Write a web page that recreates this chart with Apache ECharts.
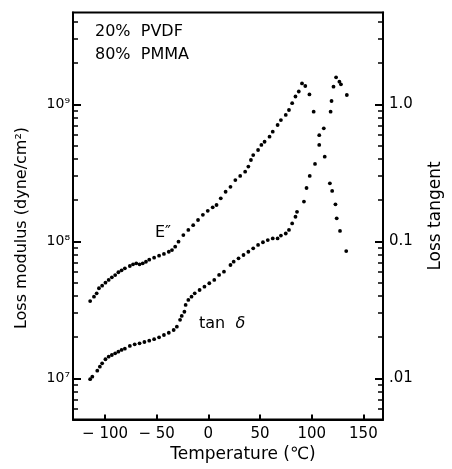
<!DOCTYPE html>
<html>
<head>
<meta charset="utf-8">
<script src="https://cdn.jsdelivr.net/npm/echarts@6/dist/echarts.min.js"></script>
<style>
html,body{margin:0;padding:0;background:#fff;}
#chart{width:452px;height:469px;}
</style>
</head>
<body>
<div id="chart"></div>
<script>
// ---- data ----
// E'' (loss modulus, dyne/cm^2) vs temperature (°C)
var eTemp = [-114.4,-110.7,-108.1,-105.9,-102.8,-99.6,-96.5,-93.4,-90.2,-87.1,
  -84.0,-80.8,-76.0,-72.9,-69.8,-66.6,-63.5,-60.4,-57.2,-52.5,
  -47.7,-43.0,-38.3,-35.2,-32.1,-28.9,-24.2,-19.4,-14.7,-10.0,
  -5.3,-0.6,4.2,7.9,12.0,16.7,21.4,26.1,30.8,35.6,
  38.7,41.2,43.4,48.1,51.3,54.4,59.2,62.3,67.0,70.2,
  74.9,78.0,81.1,84.3,87.5,90.6,93.8,97.8,101.9,107.3,
  112.6,117.6,119.8,123.0,124.2,127.4,133.4];
var eValue = [3.66e7,3.94e7,4.17e7,4.54e7,4.74e7,4.99e7,5.22e7,5.46e7,5.67e7,5.94e7,
  6.14e7,6.35e7,6.60e7,6.79e7,6.90e7,6.79e7,6.90e7,7.09e7,7.34e7,7.59e7,
  7.85e7,8.08e7,8.39e7,8.63e7,9.14e7,9.93e7,1.11e8,1.21e8,1.31e8,1.43e8,
  1.56e8,1.67e8,1.77e8,1.84e8,2.06e8,2.30e8,2.50e8,2.80e8,3.00e8,3.22e8,
  3.51e8,3.92e8,4.26e8,4.64e8,5.05e8,5.33e8,5.80e8,6.31e8,7.06e8,7.67e8,
  8.36e8,9.09e8,1.02e9,1.14e9,1.24e9,1.42e9,1.36e9,1.18e9,8.83e8,5.95e8,
  4.15e8,2.65e8,2.33e8,1.86e8,1.47e8,1.19e8,8.49e7];
// tan delta (loss tangent) vs temperature (°C)
var tTemp = [-114.4,-112.3,-107.5,-105.0,-102.8,-99.6,-96.5,-93.4,-90.2,-87.1,
  -84.0,-80.8,-76.0,-71.3,-66.6,-61.9,-57.2,-52.5,-47.7,-43.0,
  -38.3,-33.6,-30.5,-27.4,-25.8,-23.2,-22.0,-19.4,-16.3,-13.2,
  -8.5,-3.8,0.9,5.7,10.4,15.1,21.4,24.5,29.2,34.0,
  38.7,43.4,48.1,52.8,57.5,62.3,67.0,70.2,74.9,78.0,
  81.1,84.3,85.8,92.5,95.0,98.1,103.2,107.3,111.7,118.3,
  119.2,121.1,123.6,126.8,128.3,134.0];
var tValue = [0.00984,0.01027,0.01136,0.01216,0.01286,0.01377,0.01438,0.01479,0.01522,0.01563,
  0.0161,0.01644,0.01722,0.0177,0.018,0.0184,0.0188,0.0193,0.0199,0.0207,
  0.0215,0.0225,0.0238,0.0267,0.0285,0.0306,0.0343,0.0373,0.0394,0.0417,
  0.0441,0.0466,0.0494,0.0522,0.0568,0.060,0.0671,0.071,0.0751,0.0794,
  0.0839,0.0889,0.094,0.0984,0.102,0.105,0.105,0.110,0.114,0.121,
  0.135,0.151,0.164,0.195,0.245,0.300,0.367,0.505,0.668,0.883,
  1.057,1.345,1.574,1.462,1.40,1.169];

// ---- axis ticks / labels ----
var xTicks = [-100,-50,0,50,100,150];
var leftMajor = [1e7,1e8,1e9];
var leftLabels = ['10\u2077','10\u2078','10\u2079'];
var leftMinor = [5e6,6e6,7e6,8e6,9e6,
  2e7,3e7,4e7,5e7,6e7,7e7,8e7,9e7,
  2e8,3e8,4e8,5e8,6e8,7e8,8e8,9e8,
  2e9,3e9,4e9];
var rightMajor = [0.01,0.1,1];
var rightLabels = ['.01','0.1','1.0'];
var rightMinor = [0.005,0.006,0.007,0.008,0.009,
  0.02,0.03,0.04,0.05,0.06,0.07,0.08,0.09,
  0.2,0.3,0.4,0.5,0.6,0.7,0.8,0.9,
  2,3,4];

var xMin = -131, xMax = 169;
var lMin = 5e6, lMax = 4.68e9;
var rMin = 5e-3, rMax = 4.68;

function zip(a, b) { return a.map(function (v, i) { return [v, b[i]]; }); }

var FONT = 'DejaVu Sans';
var chart = echarts.init(document.getElementById('chart'));

function lbl(map, majors) {
  return function (v) {
    for (var i = 0; i < majors.length; i++) {
      if (Math.abs(v / majors[i] - 1) < 1e-6) return map[i];
    }
    return '';
  };
}

var option = {
  backgroundColor: '#fff',
  animation: false,
  grid: { left: 73, right: 61, top: 12.5, bottom: 49.5, show: true,
          borderColor: '#000', borderWidth: 2, backgroundColor: 'transparent' },
  xAxis: [{
    type: 'value', min: xMin, max: xMax,
    name: 'Temperature (\u2103)', nameLocation: 'middle', nameGap: 25,
    nameTextStyle: { fontFamily: FONT, fontSize: 17, color: '#000', padding: [0, 0, 0, 30] },
    splitLine: { show: false },
    axisLine: { show: true, onZero: false, lineStyle: { color: '#000', width: 2 } },
    axisTick: { show: true, inside: true, length: 5, customValues: xTicks,
                lineStyle: { color: '#000', width: 2 } },
    axisLabel: { customValues: xTicks, margin: 7, fontFamily: FONT, fontSize: 15, color: '#000',
                 formatter: function (v) { return v < 0 ? '\u2212 ' + Math.abs(v) : String(v); } }
  }],
  yAxis: [{
    type: 'log', position: 'left', min: lMin, max: lMax,
    name: 'Loss modulus (dyne/cm\u00b2)', nameLocation: 'middle', nameRotate: 90, nameGap: 43,
    nameTextStyle: { fontFamily: FONT, fontSize: 16, color: '#000', padding: [0, 24, 0, 0] },
    splitLine: { show: false },
    axisLine: { show: true, onZero: false, lineStyle: { color: '#000', width: 2 } },
    axisTick: { show: true, inside: true, length: 8, customValues: leftMajor,
                lineStyle: { color: '#000', width: 2 } },
    axisLabel: { customValues: leftMajor, margin: 3, fontFamily: FONT, fontSize: 14, color: '#000',
                 formatter: lbl(leftLabels, leftMajor) }
  }, {
    type: 'log', position: 'right', min: rMin, max: rMax,
    name: 'Loss tangent', nameLocation: 'middle', nameRotate: 90, nameGap: 44,
    nameTextStyle: { fontFamily: FONT, fontSize: 17, color: '#000' },
    splitLine: { show: false },
    axisLine: { show: true, onZero: false, lineStyle: { color: '#000', width: 2 } },
    axisTick: { show: true, inside: true, length: 8, customValues: rightMajor,
                lineStyle: { color: '#000', width: 2 } },
    axisLabel: { customValues: rightMajor, margin: 6, fontFamily: FONT, fontSize: 15, color: '#000',
                 formatter: lbl(rightLabels, rightMajor) }
  }, {
    type: 'log', position: 'left', min: lMin, max: lMax,
    splitLine: { show: false },
    axisLine: { show: false, onZero: false },
    axisTick: { show: true, inside: true, length: 5, customValues: leftMinor,
                lineStyle: { color: '#000', width: 1.5 } },
    axisLabel: { show: false }
  }, {
    type: 'log', position: 'right', min: rMin, max: rMax,
    splitLine: { show: false },
    axisLine: { show: false, onZero: false },
    axisTick: { show: true, inside: true, length: 5, customValues: rightMinor,
                lineStyle: { color: '#000', width: 1.5 } },
    axisLabel: { show: false }
  }],
  graphic: [
    { type: 'text', left: 95, top: 24, style: { text: '20%  PVDF', font: '16px "DejaVu Sans"', fill: '#000' } },
    { type: 'text', left: 95, top: 47, style: { text: '80%  PMMA', font: '16px "DejaVu Sans"', fill: '#000' } },
    { type: 'text', left: 155, top: 225, style: { text: 'E\u2033', font: '16px "DejaVu Sans"', fill: '#000' } },
    { type: 'text', left: 199, top: 316, style: {
        text: '{a|tan  }{b|\u03b4}', fill: '#000',
        rich: { a: { fontFamily: FONT, fontSize: 16, color: '#000' },
                b: { fontFamily: FONT, fontSize: 16, fontStyle: 'italic', color: '#000' } } } }
  ],
  series: [{
    name: 'E\u2033', type: 'scatter', xAxisIndex: 0, yAxisIndex: 0,
    data: zip(eTemp, eValue), symbol: 'circle', symbolSize: 3.8,
    itemStyle: { color: '#000', opacity: 1 }
  }, {
    name: 'tan \u03b4', type: 'scatter', xAxisIndex: 0, yAxisIndex: 1,
    data: zip(tTemp, tValue), symbol: 'circle', symbolSize: 3.8,
    itemStyle: { color: '#000', opacity: 1 }
  }]
};
chart.setOption(option);
</script>
</body>
</html>
